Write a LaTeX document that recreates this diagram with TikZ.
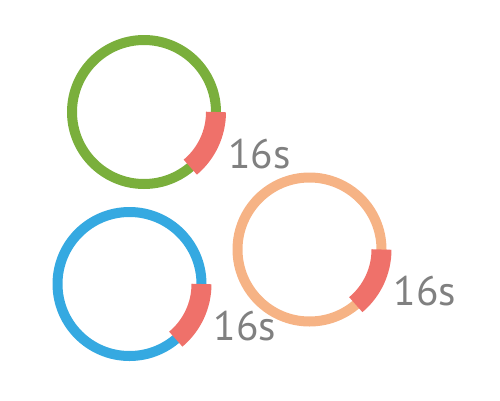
\documentclass[tikz,border=0pt]{standalone}
\usepackage{fontspec}
\setmainfont{PT Sans}
\usepackage{tikz}
\definecolor{RingGreen}{HTML}{7AAF3C}
\definecolor{RingBlue}{HTML}{35A9E1}
\definecolor{RingOrange}{HTML}{F6B385}
\definecolor{TimerRed}{HTML}{EF716A}
\definecolor{LabelGrey}{HTML}{808080}

\begin{document}
\begin{tikzpicture}[x=0.02cm,y=0.02cm,
  ring/.style={line width=0.2cm},
  timer/.style={draw=TimerRed,line width=0.4cm},
  secs/.style={text=LabelGrey,font=\fontsize{23.5}{28}\selectfont,anchor=base west,inner sep=0pt}]
\useasboundingbox (0,0) rectangle (500,400);

% {Green Ring};
\begin{scope}[shift={(144,288)}]
\coordinate (greenc) at (0,0);
\draw [ring,draw=RingGreen] (greenc) circle (72);
\draw [timer] (72,0) arc (0:-50:72);
\node[secs] (greent) at (84,-56) {16s};
\end{scope}

% {Blue Ring};
\begin{scope}[shift={(129.5,116)}]
\coordinate (bluec) at (0,0);
\draw [ring,draw=RingBlue] (bluec) circle (72);
\draw [timer] (72,0) arc (0:-50:72);
\node[secs] (bluet) at (84,-56) {16s};
\end{scope}

% {Orange Ring};
\begin{scope}[shift={(309.5,150.5)}]
\coordinate (orangec) at (0,0);
\draw [ring,draw=RingOrange] (orangec) circle (72);
\draw [timer] (72,0) arc (0:-50:72);
\node[secs] (oranget) at (84,-56) {16s};
\end{scope}

\end{tikzpicture}
\end{document}
